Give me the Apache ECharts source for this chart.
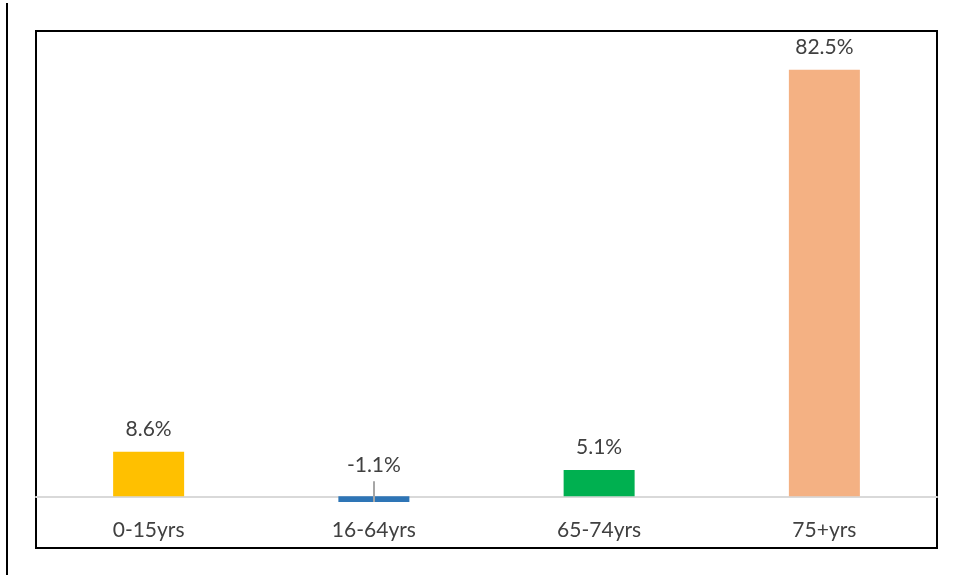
<!DOCTYPE html>
<html>
<head>
<meta charset="utf-8">
<script src="https://cdn.jsdelivr.net/npm/echarts@6/dist/echarts.min.js"></script>
<style>
  html, body { margin: 0; padding: 0; background: #fff; }
  #chart { width: 966px; height: 575px; }
</style>
</head>
<body>
<div id="chart"></div>
<script>
// Population change by age group (%)
const categories = ['0-15yrs', '16-64yrs', '65-74yrs', '75+yrs'];
const changePct = [8.6, -1.1, 5.1, 82.5];
const barColors = ['#FFC000', '#2E75B6', '#00B050', '#F4B183'];

const font = 'Lato, "Open Sans", sans-serif';
const textColor = '#404040';

const chart = echarts.init(document.getElementById('chart'));

chart.setOption({
  animation: false,
  graphic: [{
    type: 'line',
    shape: { x1: 7, y1: 3, x2: 7, y2: 575 },
    style: { stroke: '#000', lineWidth: 2 }
  }],
  grid: {
    left: 36, right: 29, top: 31, bottom: 27,
    outerBoundsMode: 'none',
    containLabel: false,
    show: true, borderColor: '#000', borderWidth: 2, backgroundColor: '#fff'
  },
  xAxis: {
    type: 'category',
    data: categories,
    position: 'bottom',
    offset: -51,
    z: 1,
    axisLine: { show: true, onZero: false, lineStyle: { color: '#d9d9d9', width: 2 } },
    axisTick: { show: false },
    axisLabel: { margin: 23, color: textColor, fontSize: 21, fontFamily: font }
  },
  yAxis: {
    type: 'value',
    min: -10, max: 90,
    show: false,
    splitLine: { show: false }
  },
  series: [{
    type: 'bar',
    z: 3,
    barWidth: 71,
    data: changePct.map((v, i) => ({
      value: v,
      itemStyle: { color: barColors[i] },
      label: v < 0 ? { offset: [0, -9] } : {}
    })),
    label: {
      show: true,
      position: 'top',
      distance: 12,
      color: textColor,
      fontSize: 21,
      fontFamily: font,
      formatter: p => p.value.toFixed(1) + '%'
    },
    markLine: {
      silent: true,
      symbol: 'none',
      label: { show: false },
      lineStyle: { color: '#a6a6a6', width: 2, type: 'solid' },
      data: [[
        { coord: ['16-64yrs', 2.9] },
        { coord: ['16-64yrs', changePct[1]] }
      ]]
    }
  }]
});
</script>
</body>
</html>
